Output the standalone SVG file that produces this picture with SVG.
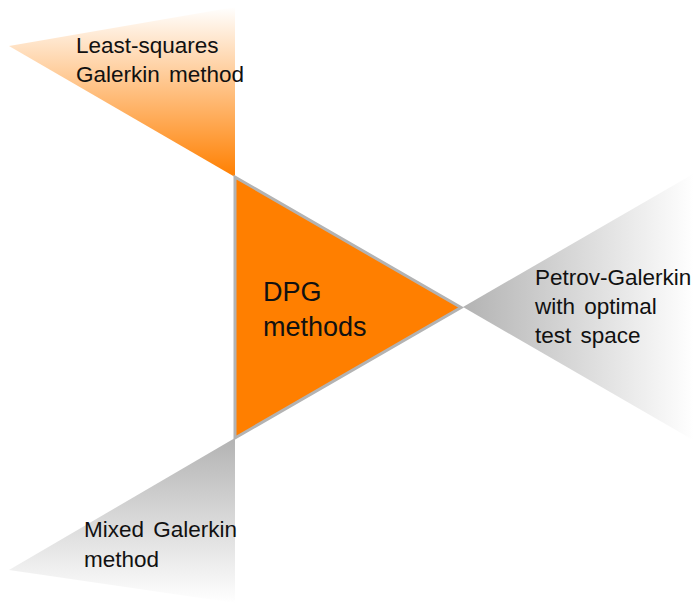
<svg xmlns="http://www.w3.org/2000/svg" width="694" height="603" viewBox="0 0 694 603">
<style>
.lbl{font-family:"Liberation Sans",Arial,sans-serif;font-size:22.5px;fill:#111;word-spacing:3px}
.big{font-family:"Liberation Sans",Arial,sans-serif;font-size:27px;fill:#111}
</style>
<defs>
<linearGradient id="gTL" gradientUnits="userSpaceOnUse" x1="0" y1="7" x2="0" y2="177">
<stop offset="0" stop-color="#ffffff"/><stop offset="1" stop-color="#ff7f00"/>
</linearGradient>
<linearGradient id="gR" gradientUnits="userSpaceOnUse" x1="463" y1="0" x2="694" y2="0">
<stop offset="0" stop-color="#b3b3b3"/><stop offset="1" stop-color="#ffffff"/>
</linearGradient>
<linearGradient id="gBL" gradientUnits="userSpaceOnUse" x1="0" y1="438" x2="0" y2="603">
<stop offset="0" stop-color="#b3b3b3"/><stop offset="1" stop-color="#ffffff"/>
</linearGradient>
</defs>
<g id="least-squares">
<polygon points="235,177 235,7 9,46" fill="url(#gTL)"/>
<text class="lbl" x="76" y="53">Least-squares</text>
<text class="lbl" x="76" y="82">Galerkin method</text>
</g>
<g id="petrov-galerkin">
<polygon points="463,307 700,170 700,444" fill="url(#gR)"/>
<text class="lbl" x="535" y="285">Petrov-Galerkin</text>
<text class="lbl" x="535" y="314">with optimal</text>
<text class="lbl" x="535" y="343">test space</text>
</g>
<g id="mixed-galerkin">
<polygon points="235,438 235,603 9,570" fill="url(#gBL)"/>
<text class="lbl" x="84" y="537">Mixed Galerkin</text>
<text class="lbl" x="84" y="567">method</text>
</g>
<g id="dpg">
<polygon points="235,177 235,438 461,307.5" fill="#ff7f00" stroke="#b3b3b3" stroke-width="3" stroke-linejoin="miter"/>
<text class="big" x="263" y="301">DPG</text>
<text class="big" x="263" y="336">methods</text>
</g>
<g id="connectors"></g>
</svg>
